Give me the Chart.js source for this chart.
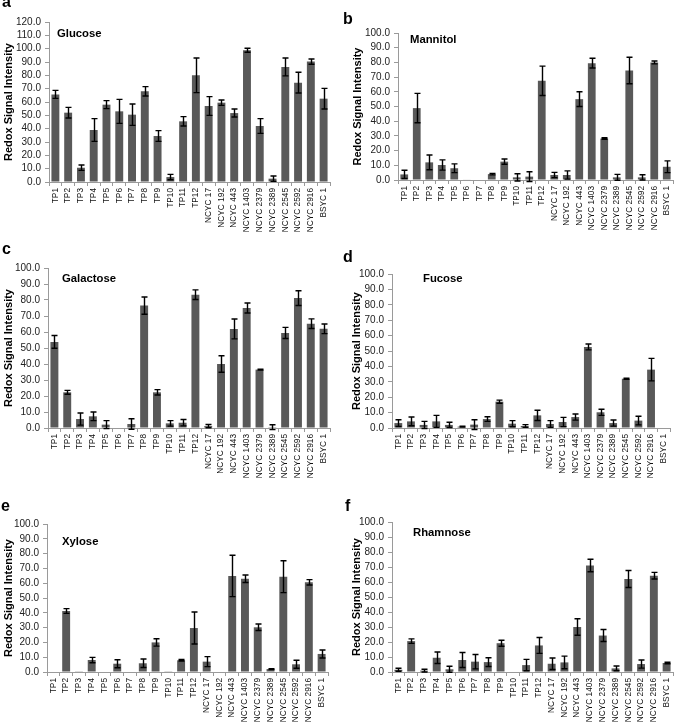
<!DOCTYPE html>
<html><head><meta charset="utf-8">
<script src="https://cdn.jsdelivr.net/npm/chart.js@4.4.0/dist/chart.umd.min.js"></script>
<style>
html,body{margin:0;padding:0;background:#fff;}
#wrap{position:relative;width:685px;height:725px;overflow:hidden;}
canvas{position:absolute;}
.lt{position:absolute;font:bold 16px "Liberation Sans",Arial,sans-serif;line-height:16px;color:#000;}
</style></head><body>
<div id="wrap">
<canvas id="ca" width="340" height="240" style="left:0;top:0"></canvas>
<canvas id="cb" width="345" height="240" style="left:340px;top:0"></canvas>
<canvas id="cc" width="340" height="240" style="left:0;top:240px"></canvas>
<canvas id="cd" width="345" height="240" style="left:340px;top:240px"></canvas>
<canvas id="ce" width="340" height="245" style="left:0;top:480px"></canvas>
<canvas id="cf" width="345" height="245" style="left:340px;top:480px"></canvas>
<div class="lt" style="left:2px;top:-6px">a</div>
<div class="lt" style="left:343px;top:11px">b</div>
<div class="lt" style="left:2px;top:241px">c</div>
<div class="lt" style="left:343px;top:249px">d</div>
<div class="lt" style="left:1px;top:498px">e</div>
<div class="lt" style="left:345px;top:498px">f</div>
</div>
<script>
const categories = ['TP1','TP2','TP3','TP4','TP5','TP6','TP7','TP8','TP9','TP10','TP11','TP12','NCYC 17','NCYC 192','NCYC 443','NCYC 1403','NCYC 2379','NCYC 2389','NCYC 2545','NCYC 2592','NCYC 2916','BSYC 1'];

const glucoseMean = [65.7, 52, 10.7, 39, 58, 53, 50.5, 68, 34.5, 3.7, 45.5, 80, 57, 59.5, 51.7, 98.8, 42, 2.5, 86.3, 74.5, 90.3, 62.5];
const glucoseErr  = [3, 4, 2, 8.5, 3, 9, 8, 3.5, 4, 2, 3.5, 13, 7, 2, 3, 1.5, 5.5, 2, 6.7, 7.8, 2, 7.7];

const mannitolMean = [3.8, 48.9, 12, 10.2, 8, 0.3, 0, 4, 12.5, 1.8, 2.3, 67.5, 3.4, 3.4, 55, 79.5, 28.2, 1.8, 74.5, 1.8, 80, 9];
const mannitolErr  = [2.8, 10, 5, 3.5, 3, 0, 0, 0.5, 1.8, 2.5, 3.3, 10, 1.8, 2.8, 5, 3.3, 0.5, 2, 9, 1.8, 1, 4];

const galactoseMean = [53.8, 22.3, 5.6, 7.3, 2.1, 0, 2.5, 76.5, 22.3, 2.9, 3.3, 83.3, 1.2, 40, 61.9, 75, 36.5, 0.5, 59.4, 81.2, 65.2, 62];
const galactoseErr  = [4, 1.2, 3.8, 2.7, 2.5, 0, 3.3, 5.4, 1.7, 1.7, 2, 3, 1, 5.2, 6.2, 3.1, 0.3, 1.5, 3.5, 4.6, 3, 3];

const fucoseMean = [3.2, 4.3, 2, 4.3, 2, 0.9, 2.2, 5.8, 17.1, 2.8, 1.3, 8.2, 2.6, 3.9, 7.1, 52.6, 10.2, 3.2, 32, 4.8, 37.9, 0];
const fucoseErr  = [2.2, 2.8, 2.3, 3.9, 1.7, 0.3, 3.2, 1.5, 1, 2, 0.9, 3.3, 2.2, 3, 2, 1.9, 2, 2, 0.3, 2.8, 7.3, 0];

const xyloseMean = [0, 41.2, 0.2, 8.1, 0, 5.6, 0, 5.9, 20, 0.2, 7.9, 29.7, 7, 0, 64.9, 63, 30.2, 2, 64.4, 5.2, 60.6, 12.2];
const xyloseErr  = [0, 1.6, 0, 1.8, 0, 2.7, 0, 2.9, 2.5, 0, 0.5, 10.8, 3.4, 0, 14, 2.5, 2.2, 0.3, 10.8, 2.7, 1.8, 2.7];

const rhamnoseMean = [1.5, 20.6, 0.9, 9.5, 1.8, 8, 6.9, 6.6, 19.2, 0, 4.6, 17.7, 5.5, 6.4, 30, 71, 24.3, 2.4, 62, 5.3, 64.2, 6];
const rhamnoseErr  = [1, 1.5, 0.9, 3.8, 2, 5, 4.8, 2.9, 2, 0, 3.8, 5.3, 3.8, 4.2, 5.5, 4.2, 4, 1.6, 5.7, 2.7, 2.2, 0.5];

const glucoseYMax = 120;
const otherYMax = 100;
const yStep = 10;
const yAxisTitle = 'Redox Signal Intensity';

const FONT = '"Liberation Sans", Arial, Helvetica, sans-serif';

const panels = [
  {id:'ca', title:'Glucose',   mean:glucoseMean,   err:glucoseErr,   max:glucoseYMax, padL:0, padT:22, padR:10, yW:49, xH:58, tdx:8,  tdy:12},
  {id:'cb', title:'Mannitol',  mean:mannitolMean,  err:mannitolErr,  max:otherYMax,   padL:9, padT:33, padR:12, yW:49, xH:60, tdx:12, tdy:7},
  {id:'cc', title:'Galactose', mean:galactoseMean, err:galactoseErr, max:otherYMax,   padL:0, padT:28, padR:10, yW:48, xH:52, tdx:14, tdy:11},
  {id:'cd', title:'Fucose',    mean:fucoseMean,    err:fucoseErr,    max:otherYMax,   padL:8, padT:34, padR:15, yW:44, xH:52, tdx:31, tdy:5},
  {id:'ce', title:'Xylose',    mean:xyloseMean,    err:xyloseErr,    max:otherYMax,   padL:0, padT:44, padR:12, yW:47, xH:53, tdx:15, tdy:18},
  {id:'cf', title:'Rhamnose',  mean:rhamnoseMean,  err:rhamnoseErr,  max:otherYMax,   padL:8, padT:42, padR:12, yW:44, xH:53, tdx:21, tdy:11}
];

const errorBarsPlugin = {
  id: 'errorBars',
  afterDatasetsDraw(chart, args, opts) {
    const ctx = chart.ctx;
    const meta = chart.getDatasetMeta(0);
    const ys = chart.scales.y;
    const means = chart.data.datasets[0].data;
    const errs = opts.errors || [];
    ctx.save();
    ctx.strokeStyle = '#000';
    ctx.lineWidth = 1.4;
    const cap = 3;
    meta.data.forEach((bar, i) => {
      const e = errs[i];
      if (!e) return;
      const x = Math.round(bar.x) + 0.5;
      const yt = ys.getPixelForValue(means[i] + e);
      const yb = ys.getPixelForValue(means[i] - e);
      ctx.beginPath();
      ctx.moveTo(x, yt); ctx.lineTo(x, yb);
      ctx.moveTo(x - cap, yt); ctx.lineTo(x + cap, yt);
      ctx.moveTo(x - cap, yb); ctx.lineTo(x + cap, yb);
      ctx.stroke();
    });
    ctx.restore();
  }
};

const innerTitlePlugin = {
  id: 'innerTitle',
  afterDraw(chart, args, opts) {
    const ctx = chart.ctx;
    const ca = chart.chartArea;
    ctx.save();
    ctx.font = 'bold 11.3px ' + FONT;
    ctx.fillStyle = '#000';
    ctx.textBaseline = 'middle';
    ctx.textAlign = 'left';
    ctx.fillText(opts.text, ca.left + opts.dx, ca.top + opts.dy);
    ctx.restore();
  }
};

panels.forEach(p => {
  new Chart(document.getElementById(p.id), {
    type: 'bar',
    data: {
      labels: categories,
      datasets: [{
        data: p.mean,
        backgroundColor: '#595959',
        borderWidth: 0,
        barPercentage: 0.62,
        categoryPercentage: 1.0
      }]
    },
    plugins: [errorBarsPlugin, innerTitlePlugin],
    options: {
      responsive: false,
      animation: false,
      devicePixelRatio: 1,
      layout: {padding: {left: p.padL, top: p.padT, right: p.padR, bottom: 0}},
      plugins: {
        legend: {display: false},
        tooltip: {enabled: false},
        errorBars: {errors: p.err},
        innerTitle: {text: p.title, dx: p.tdx, dy: p.tdy}
      },
      scales: {
        x: {
          offset: true,
          grid: {display: true, drawOnChartArea: false, drawTicks: true, tickLength: 4, color: '#9a9a9a', offset: true},
          border: {display: true, color: '#9a9a9a', width: 1},
          ticks: {autoSkip: false, minRotation: 90, maxRotation: 90, padding: 2, color: '#111', font: {family: FONT, size: 8.3}},
          afterFit: s => { s.height = p.xH; }
        },
        y: {
          min: 0, max: p.max,
          grid: {display: true, drawOnChartArea: false, drawTicks: true, tickLength: 4, color: '#9a9a9a'},
          border: {display: true, color: '#9a9a9a', width: 1},
          ticks: {stepSize: yStep, autoSkip: false, maxTicksLimit: 20, padding: 4, color: '#222', font: {family: FONT, size: 10, lineHeight: 1}, callback: v => Number(v).toFixed(1)},
          title: {display: true, text: yAxisTitle, color: '#000', font: {family: FONT, size: 11, weight: 'bold'}, padding: {top: 2, bottom: 0}},
          afterFit: s => { s.width = p.yW; }
        }
      }
    }
  });
});
</script>
</body></html>
